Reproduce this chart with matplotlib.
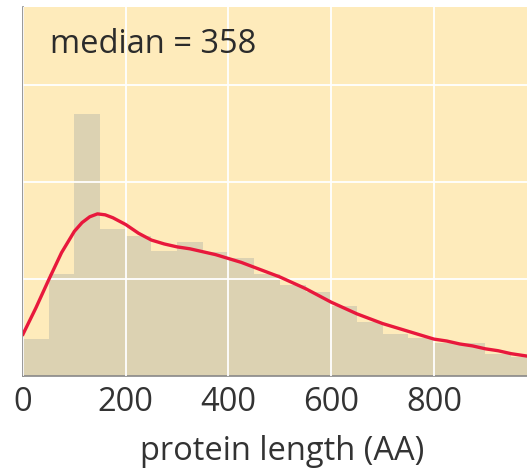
import matplotlib
matplotlib.use("Agg")
import matplotlib.pyplot as plt

plt.rcParams['font.family'] = ['Open Sans', 'DejaVu Sans']

# histogram of protein lengths, 50 AA bins (relative frequency)
bin_edges = [0, 50, 100, 150, 200, 250, 300, 350, 400, 450, 500,
             550, 600, 650, 700, 750, 800, 850, 900, 950]
bin_heights = [0.38, 1.05, 2.70, 1.51, 1.44, 1.29, 1.38, 1.28, 1.22, 1.05,
               0.94, 0.87, 0.72, 0.56, 0.43, 0.39, 0.34, 0.34, 0.23, 0.20]
bin_width = 50

# smoothed density curve
curve_x = [0, 25, 50, 75, 100, 115, 130, 145, 160, 175, 200, 225, 250,
           275, 300, 325, 350, 375, 400, 425, 450, 475, 500, 525, 550,
           575, 600, 625, 650, 675, 700, 725, 750, 775, 800, 825, 850,
           875, 900, 925, 950, 975, 1000]
curve_y = [0.43, 0.70, 0.99, 1.27, 1.49, 1.58, 1.64, 1.67, 1.66, 1.63,
           1.56, 1.47, 1.40, 1.36, 1.33, 1.31, 1.28, 1.25, 1.21, 1.17,
           1.12, 1.07, 1.02, 0.96, 0.90, 0.83, 0.76, 0.70, 0.64, 0.59,
           0.54, 0.50, 0.46, 0.42, 0.38, 0.36, 0.33, 0.31, 0.28, 0.26,
           0.23, 0.21, 0.19]

median_len = 358
x_ticks = [0, 200, 400, 600, 800]

fig = plt.figure(figsize=(5.27, 4.72), dpi=100)
ax = fig.add_axes([0.0436, 0.2034, 0.9564, 0.7816])
ax.set_facecolor('#feebbb')

ax.bar(bin_edges, bin_heights, width=bin_width, align='edge',
       color='#dcd2b2', linewidth=0, zorder=1)
ax.plot(curve_x, curve_y, color='#e8183c', linewidth=2.4,
        solid_joinstyle='round', zorder=3)

ax.set_axisbelow(False)
ax.grid(True, color='white', linewidth=1.3)
ax.set_xlim(0, 981)
ax.set_ylim(0, 3.8)
ax.set_xticks(x_ticks)
ax.set_yticks([1, 2, 3])
ax.set_yticklabels([])
ax.tick_params(length=0, labelsize=23.5, colors='#333333', pad=7)

for side in ['top', 'right']:
    ax.spines[side].set_visible(False)
for side in ['left', 'bottom']:
    ax.spines[side].set_color('#888888')
    ax.spines[side].set_linewidth(1.2)

ax.text(52, 3.41, f'median = {median_len}', fontsize=23.5, color='#2b2b2b',
        va='center', ha='left')
ax.set_xlabel('protein length (AA)', fontsize=23.5, color='#333333')
ax.xaxis.set_label_coords(0.515, -0.16)

fig.savefig('out.png', dpi=100)
